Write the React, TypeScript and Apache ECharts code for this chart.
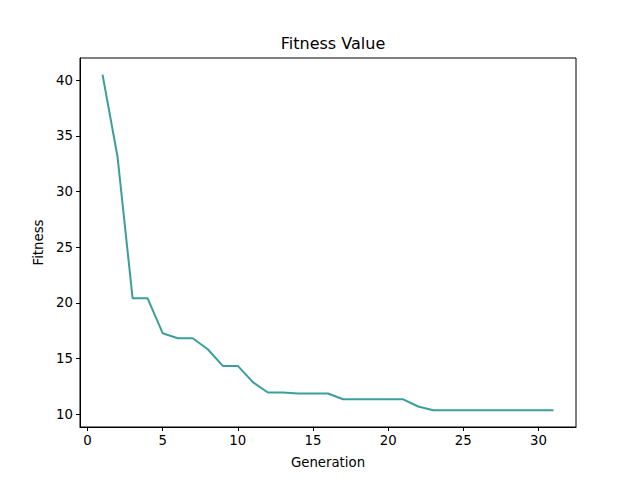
import React, { useEffect, useRef } from "react";
import * as echarts from "echarts";

const generations = [1, 2, 3, 4, 5, 6, 7, 8, 9, 10, 11, 12, 13, 14, 15, 16, 17, 18, 19, 20, 21, 22, 23, 24, 25, 26, 27, 28, 29, 30, 31];
const fitness = [40.5, 33.1, 20.4, 20.4, 17.27, 16.82, 16.82, 15.83, 14.33, 14.33, 12.87, 11.94, 11.94, 11.85, 11.85, 11.85, 11.33, 11.33, 11.33, 11.33, 11.33, 10.68, 10.35, 10.35, 10.35, 10.35, 10.35, 10.35, 10.35, 10.35, 10.35];
const xTicks = [0, 5, 10, 15, 20, 25, 30];
const yTicks = [10, 15, 20, 25, 30, 35, 40];

const FONT = "DejaVu Sans";

export default function App() {
  const ref = useRef<HTMLDivElement>(null);
  useEffect(() => {
    if (!ref.current) return;
    const chart = echarts.init(ref.current, undefined, { renderer: "svg" });
    chart.setOption({
      animation: false,
      backgroundColor: "#ffffff",
      title: {
        text: "Fitness Value",
        left: 328,
        top: 30,
        textAlign: "center",
        textStyle: { fontFamily: FONT, fontSize: 16, fontWeight: "normal", color: "#000" },
      },
      grid: {
        left: 80,
        right: 64,
        top: 58,
        bottom: 53,
        show: true,
        borderColor: "#000",
        borderWidth: 1,
        backgroundColor: "transparent",
      },
      xAxis: {
        type: "value",
        min: -0.5,
        max: 32.5,
        name: "Generation",
        nameLocation: "middle",
        nameGap: 29,
        nameTextStyle: { fontFamily: FONT, fontSize: 13.3, color: "#000" },
        axisLine: { show: true, onZero: false, lineStyle: { color: "#000", width: 1 } },
        axisTick: { show: true, length: 4, inside: false, customValues: xTicks, lineStyle: { color: "#000" } },
        axisLabel: { fontFamily: FONT, fontSize: 13.3, color: "#000", margin: 7, customValues: xTicks },
        splitLine: { show: false },
      },
      yAxis: {
        type: "value",
        min: 8.84,
        max: 42.0,
        name: "Fitness",
        nameLocation: "middle",
        nameGap: 34,
        nameRotate: 90,
        nameTextStyle: { fontFamily: FONT, fontSize: 13.3, color: "#000" },
        axisLine: { show: true, onZero: false, lineStyle: { color: "#000", width: 1 } },
        axisTick: { show: true, length: 4, inside: false, customValues: yTicks, lineStyle: { color: "#000" } },
        axisLabel: { fontFamily: FONT, fontSize: 13.3, color: "#000", margin: 7, customValues: yTicks },
        splitLine: { show: false },
      },
      series: [
        {
          type: "line",
          data: generations.map((g, i) => [g, fitness[i]]),
          showSymbol: false,
          symbol: "none",
          lineStyle: { color: "#3a9f9b", width: 2 },
          itemStyle: { color: "#3a9f9b" },
        },
      ],
    });
    return () => chart.dispose();
  }, []);
  return <div ref={ref} style={{ position: "fixed", left: 0, top: 0, width: 640, height: 480 }} />;
}
